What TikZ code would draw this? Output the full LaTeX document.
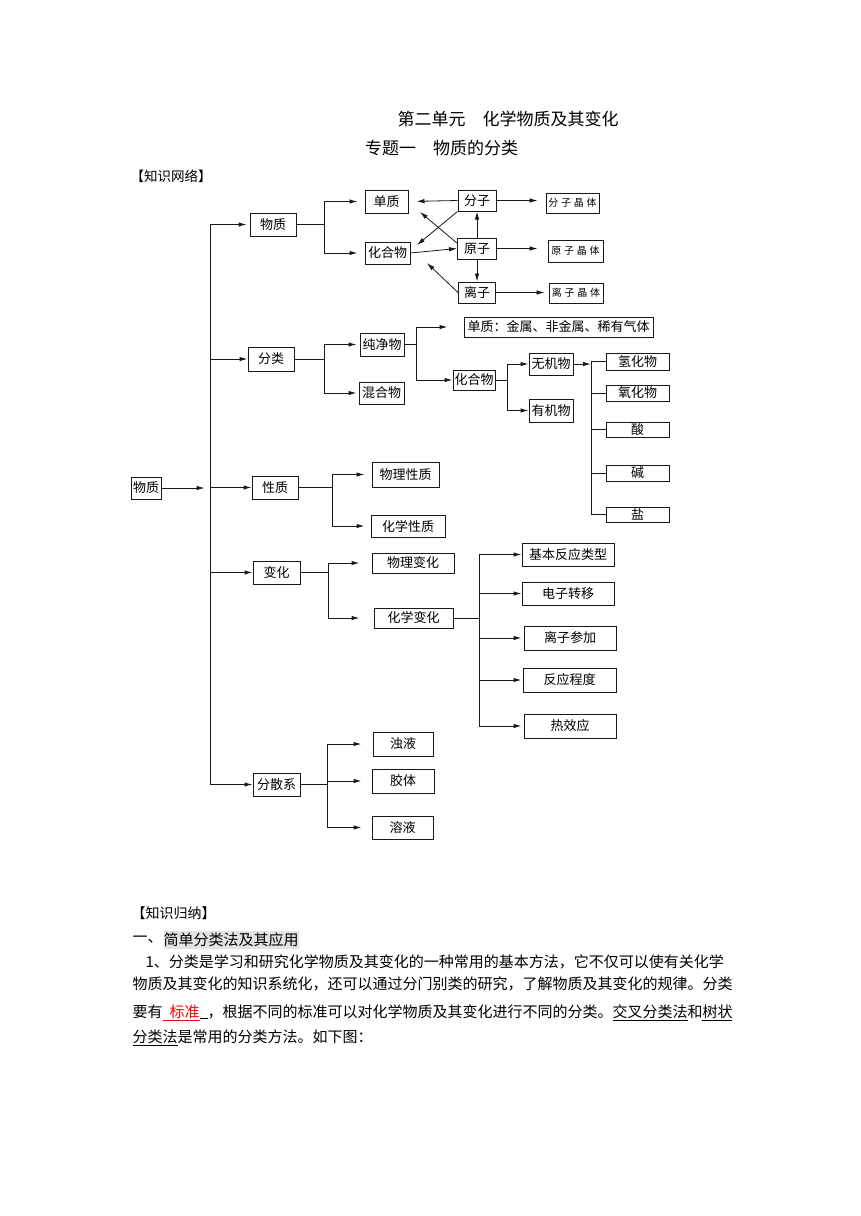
\documentclass[tikz,border=0pt]{standalone}
\usepackage{fontspec}
\setmainfont{Noto Sans CJK SC}
\newfontfamily\crysfont{Noto Sans CJK SC}[LetterSpace=28]
\usepackage{xcolor}
\usetikzlibrary{positioning,arrows.meta}
\tikzset{
  bx/.style={draw,inner sep=0pt,font=\fontsize{13}{13}\selectfont},
  cry/.style={draw,inner sep=0pt,font=\crysfont\fontsize{10}{10}\selectfont},
  sz/.style 2 args={minimum width=#1pt,minimum height=#2pt},
  txt/.style={anchor=base west,inner sep=0pt,font=\fontsize{15}{15}\selectfont},
  ttl/.style={inner sep=0pt,font=\fontsize{17}{17}\selectfont},
  gap/.style={shorten >=#1pt},
}

\begin{document}
\begin{tikzpicture}[x=1pt,y=-1pt,>={Latex[length=8pt,width=4.5pt]},
   line width=1pt,draw=black!90]
  \useasboundingbox (0,0) rectangle (860,1216);
  \node[ttl] (t1) at (508,119) {第二单元　化学物质及其变化};
  \node[ttl] (t2) at (441.5,148) {专题一　物质的分类};
  \node[txt,font=\fontsize{13.5}{13.5}\selectfont] (t3) at (130,181) {【知识网络】};

  \node[bx,sz={30}{22}] (root) at (146,488) {物质};
  \node[bx,sz={46}{23}] (wz) at (273,224.5) {物质};
  \node[bx,sz={46}{24}] (fl) at (271,359) {分类};
  \node[bx,sz={46}{23}] (xz) at (275,487.5) {性质};
  \node[bx,sz={47}{23}] (bh) at (276.5,572.5) {变化};
  \node[bx,sz={47}{23}] (fsx) at (276.5,784.5) {分散系};

  \node[bx,sz={43}{23}] (dz) at (386.5,201.5) {单质};
  \node[bx,sz={45}{22}] (hhw) at (387.5,253) {化合物};
  \node[bx,sz={38}{21}] (fz) at (477,200.5) {分子};
  \node[bx,sz={39}{21}] (yz) at (477,248.5) {原子};
  \node[bx,sz={37}{21}] (lz) at (477,292.5) {离子};
  \node[cry,sz={53}{20}] (fj) at (572.5,203) {分子晶体};
  \node[cry,sz={55}{22}] (yj) at (575.5,251) {原子晶体};
  \node[cry,sz={54}{20}] (lj) at (576,293) {离子晶体};

  \node[bx,sz={44}{23}] (cj) at (382,344.5) {纯净物};
  \node[bx,sz={45}{22}] (hh) at (381.5,393) {混合物};
  \node[bx,sz={189}{20}] (dzm) at (558.5,327) {单质：金属、非金属、稀有气体};
  \node[bx,sz={42}{20}] (hh2) at (474,380) {化合物};
  \node[bx,sz={44}{22}] (wj) at (551,364) {无机物};
  \node[bx,sz={44}{23}] (yj2) at (551,410.5) {有机物};
  \node[bx,sz={63}{17}] (qh) at (637.5,361.5) {氢化物};
  \node[bx,sz={63}{16}] (yh) at (637.5,393) {氧化物};
  \node[bx,sz={63}{15}] (suan) at (637.5,429.5) {酸};
  \node[bx,sz={63}{16}] (jian) at (637.5,473) {碱};
  \node[bx,sz={63}{15}] (yan) at (637.5,514.5) {盐};

  \node[bx,sz={67}{25}] (wlxz) at (405.5,474.5) {物理性质};
  \node[bx,sz={74}{22}] (hxxz) at (408,526) {化学性质};

  \node[bx,sz={82}{20}] (wlbh) at (413,563) {物理变化};
  \node[bx,sz={79}{20}] (hxbh) at (413.5,618) {化学变化};
  \node[bx,sz={92}{23}] (jb) at (568,554.5) {基本反应类型};
  \node[bx,sz={92}{23}] (dzzy) at (568,593.5) {电子转移};
  \node[bx,sz={92}{24}] (lzcj) at (570,638) {离子参加};
  \node[bx,sz={93}{24}] (fycd) at (569.5,680) {反应程度};
  \node[bx,sz={92}{24}] (xxy) at (570,726) {热效应};

  \node[bx,sz={60}{24}] (zy) at (403,744) {浊液};
  \node[bx,sz={62}{24}] (jt) at (403,781) {胶体};
  \node[bx,sz={61}{23}] (ry) at (402.5,827.5) {溶液};

  \coordinate (trunk) at (210.7,488);
  \coordinate (b1) at (324,224.5);
  \coordinate (b2) at (324,359);
  \coordinate (b3) at (416,344.5);
  \coordinate (b4) at (507,380);
  \coordinate (b5) at (591,364);
  \coordinate (b6) at (332,487.5);
  \coordinate (b7) at (328,572.5);
  \coordinate (b8) at (479,618);
  \coordinate (b9) at (327,784.5);
  \coordinate (e1) at (417,245);
  \coordinate (e2) at (420,212);
  \coordinate (e3) at (427,263);

  \draw[->,gap=6] (root) -- (trunk);
  \foreach \n/\g in {wz/3,fl/0,xz/0,bh/0,fsx/0}
    \draw[->,gap=\g] (trunk) |- (\n.west);
  \draw (wz.east) -- (b1);
  \foreach \n/\g in {dz/7,hhw/7}
    \draw[->,gap=\g] (b1) |- (\n.west);
  \draw (fl.east) -- (b2);
  \foreach \n/\g in {cj/3,hh/2}
    \draw[->,gap=\g] (b2) |- (\n.west);
  \draw (cj.east) -- (b3);
  \foreach \n/\g in {dzm/16,hh2/0}
    \draw[->,gap=\g] (b3) |- (\n.west);
  \draw (hh2.east) -- (b4);
  \foreach \n in {wj,yj2}
    \draw[->] (b4) |- (\n.west);
  \draw[->] (wj.east) -- (b5);
  \foreach \n in {qh,yh,suan,jian,yan}
    \draw (b5) |- (\n.west);
  \draw (xz.east) -- (b6);
  \foreach \n/\g in {wlxz/7,hxxz/6}
    \draw[->,gap=\g] (b6) |- (\n.west);
  \draw (bh.east) -- (b7);
  \foreach \n/\g in {wlbh/12,hxbh/14}
    \draw[->,gap=\g] (b7) |- (\n.west);
  \draw (hxbh.east) -- (b8);
  \foreach \n/\g in {jb/0,dzzy/0,lzcj/2,fycd/1,xxy/2}
    \draw[->,gap=\g] (b8) |- (\n.west);
  \draw (fsx.east) -- (b9);
  \foreach \n/\g in {zy/11,jt/10,ry/10}
    \draw[->,gap=\g] (b9) |- (\n.west);

  \begin{scope}[line width=0.8pt]
    \draw[->,gap=8] (fz.west) -- (dz.east);
    \draw[->] (fz.south west) -- (e1);
    \draw[->] (yz.165) -- (e2);
    \draw[->] (hhw.east) -- (yz.west);
    \draw[->] (yz) -- (fz);
    \draw[->] (yz) -- (lz);
    \draw[->] (lz.west) -- (e3);
    \draw[->,gap=8] (fz.east) -- (fz.east -| fj.west);
    \draw[->,gap=10] (yz.east) -- (yz.east -| yj.west);
    \draw[->,gap=4] (lz.east) -- (lz.east -| lj.west);
  \end{scope}

  \node[txt,font=\fontsize{14}{14}\selectfont] (k1) at (131,918.3) {【知识归纳】};
  \node[txt] (k2) at (132,942.7) {一、};
  \node[txt,fill=gray!22,inner ysep=2pt,right=0pt of k2] (k3) {简单分类法及其应用};
  \node[txt] (p1) at (145,967.7) {1、分类是学习和研究化学物质及其变化的一种常用的基本方法，它不仅可以使有关化学};
  \node[txt] (p2) at (132,989.2) {物质及其变化的知识系统化，还可以通过分门别类的研究，了解物质及其变化的规律。分类};
  \node[txt] (p3) at (132,1017.2) {要有{\color{red}\underline{\hspace{7pt}标准}}\underline{\hspace{8pt}}，根据不同的标准可以对化学物质及其变化进行不同的分类。\underline{交叉分类法}和\underline{树状}};
  \node[txt] (p4) at (132,1042.2) {\underline{分类法}是常用的分类方法。如下图：};
\end{tikzpicture}
\end{document}
